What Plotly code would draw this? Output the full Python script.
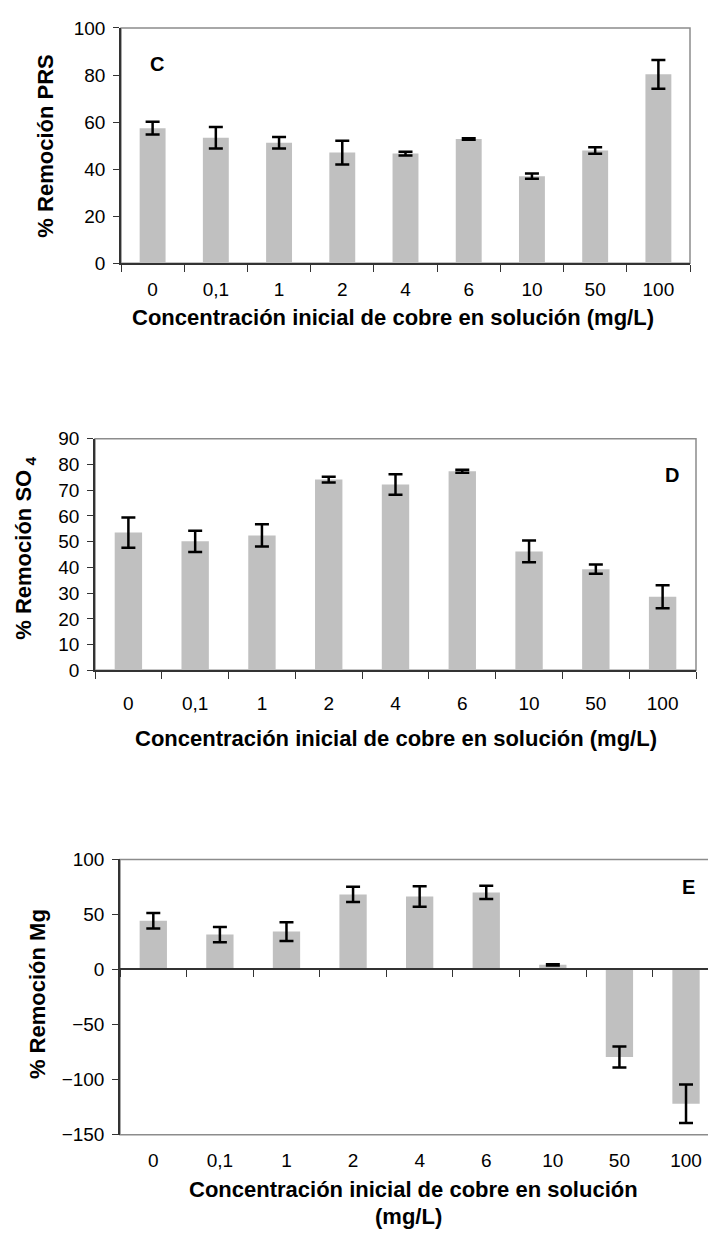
import plotly.graph_objects as go

# ---------------- data ----------------
categories = ["0", "0,1", "1", "2", "4", "6", "10", "50", "100"]

prs_values = [57.4, 53.3, 51.2, 47.0, 46.6, 52.8, 37.0, 47.9, 80.3]
prs_errors = [2.7, 4.6, 2.4, 5.0, 0.8, 0.3, 1.1, 1.4, 6.1]

so4_values = [53.5, 50.1, 52.4, 74.1, 72.2, 77.3, 46.2, 39.3, 28.6]
so4_errors = [5.9, 4.1, 4.3, 1.1, 4.0, 0.6, 4.2, 1.8, 4.5]

mg_values = [44.2, 31.7, 34.4, 68.2, 66.4, 70.0, 4.2, -79.5, -121.9]
mg_errors = [7.0, 7.0, 8.6, 7.0, 9.3, 6.0, 0.5, 9.5, 17.5]

x_title = "Concentración inicial de cobre en solución (mg/L)"

# ---------------- layout helpers ----------------
W, H = 708, 1242
FONT = "Liberation Sans, Arial, sans-serif"
BAR_COLOR = "#C0C0C0"
AXIS_COLOR = "#333333"
BORDER_COLOR = "#8C8C8C"


def px_x(p):
    return p / W


def px_y(p):
    return 1 - p / H


def bar(vals, errs, xa, ya):
    return go.Bar(
        x=categories, y=vals, xaxis=xa, yaxis=ya,
        marker=dict(color=BAR_COLOR, line=dict(width=0)),
        error_y=dict(type="data", array=errs, visible=True,
                     color="black", thickness=2.5, width=7),
        showlegend=False, hoverinfo="x+y",
    )


fig = go.Figure()
fig.add_trace(bar(prs_values, prs_errors, "x", "y"))
fig.add_trace(bar(so4_values, so4_errors, "x2", "y2"))
fig.add_trace(bar(mg_values, mg_errors, "x3", "y3"))
# invisible helper so the zero-line category axis of panel E gets its categories
fig.add_trace(go.Scatter(x=categories, y=mg_values, xaxis="x4", yaxis="y3",
                         mode="markers", marker=dict(opacity=0),
                         hoverinfo="skip", showlegend=False))

tickfont = dict(family=FONT, size=19, color="black")

common_x = dict(type="category", categoryorder="array", categoryarray=categories,
                showgrid=False, zeroline=False, tickfont=tickfont, fixedrange=True)
common_y = dict(showgrid=False, zeroline=False, tickfont=tickfont,
                showline=True, linecolor=AXIS_COLOR, linewidth=1.5,
                ticks="outside", ticklen=6, tickcolor=AXIS_COLOR, tickwidth=1,
                ticklabelstandoff=4)

# panel E geometry
e_top, e_bot = 864, 1144
e_ymin, e_ymax = -150, 100
e_dom = [px_y(e_bot), px_y(e_top)]
zero_pos = e_dom[0] + (0 - e_ymin) / (e_ymax - e_ymin) * (e_dom[1] - e_dom[0])

fig.update_layout(
    width=W, height=H,
    margin=dict(l=0, r=0, t=0, b=0),
    paper_bgcolor="white", plot_bgcolor="white",
    bargap=0.59,
    font=dict(family=FONT, color="black"),
    xaxis=dict(common_x, domain=[px_x(121), px_x(690)], anchor="y",
               range=[-0.5, 8.5], showline=True, linecolor=AXIS_COLOR, linewidth=1.5,
               ticks="outside", tickson="boundaries", ticklen=7,
               tickcolor=AXIS_COLOR, ticklabelstandoff=8),
    yaxis=dict(common_y, domain=[px_y(257.5), px_y(18.3)], anchor="x",
               range=[0, 100], dtick=20),
    xaxis2=dict(common_x, domain=[px_x(95), px_x(696)], anchor="y2",
                range=[-0.5, 8.5], showline=True, linecolor=AXIS_COLOR, linewidth=1.5,
                ticks="outside", tickson="boundaries", ticklen=7,
                tickcolor=AXIS_COLOR, ticklabelstandoff=15),
    yaxis2=dict(common_y, domain=[px_y(671.7), px_y(436)], anchor="x2",
                range=[0, 90], dtick=10),
    xaxis3=dict(common_x, domain=[px_x(120), 1.0], anchor="y3",
                range=[-0.5, 8.33], showline=False, ticks="",
                ticklabelstandoff=12),
    xaxis4=dict(common_x, overlaying="x3", anchor="free", position=zero_pos,
                range=[-0.5, 8.33], showline=True, linecolor=AXIS_COLOR, linewidth=1.5,
                ticks="outside", tickson="boundaries", ticklen=7,
                tickcolor=AXIS_COLOR, showticklabels=False),
    yaxis3=dict(common_y, domain=e_dom, anchor="x3",
                range=[e_ymin, e_ymax], dtick=50),
)

# plot-area borders (gray)
for xr, yr, x1 in [("x domain", "y domain", 1), ("x2 domain", "y2 domain", 1),
                   ("x3 domain", "y3 domain", 1.05)]:
    fig.add_shape(type="rect", xref=xr, yref=yr, x0=0, x1=x1, y0=0, y1=1,
                  line=dict(color=BORDER_COLOR, width=1.5), layer="below")

title_font = dict(family=FONT, size=22, color="black")
label_font = dict(family=FONT, size=20, color="black")


def ann(text, x, y, font, angle=0):
    fig.add_annotation(text=text, x=px_x(x), y=px_y(y), xref="paper", yref="paper",
                       xanchor="center", yanchor="middle", showarrow=False,
                       textangle=angle, font=font)


# panel letters
ann("<b>C</b>", 157, 55, label_font)
ann("<b>D</b>", 672, 473, label_font)
ann("<b>E</b>", 688, 892, label_font)

# y titles
ann("<b>% Remoción PRS</b>", 46, 139, title_font, -90)
ann("<b>% Remoción SO<sub> 4</sub></b>", 25, 548, title_font, -90)
ann("<b>% Remoción Mg</b>", 37, 1001, title_font, -90)

# x titles
ann("<b>" + x_title + "</b>", 393, 313, title_font)
ann("<b>" + x_title + "</b>", 396, 741, title_font)
ann("<b>Concentración inicial de cobre en solución</b>", 413, 1200, title_font)
ann("<b>(mg/L)</b>", 408, 1227, title_font)

fig.write_html("out.html")
